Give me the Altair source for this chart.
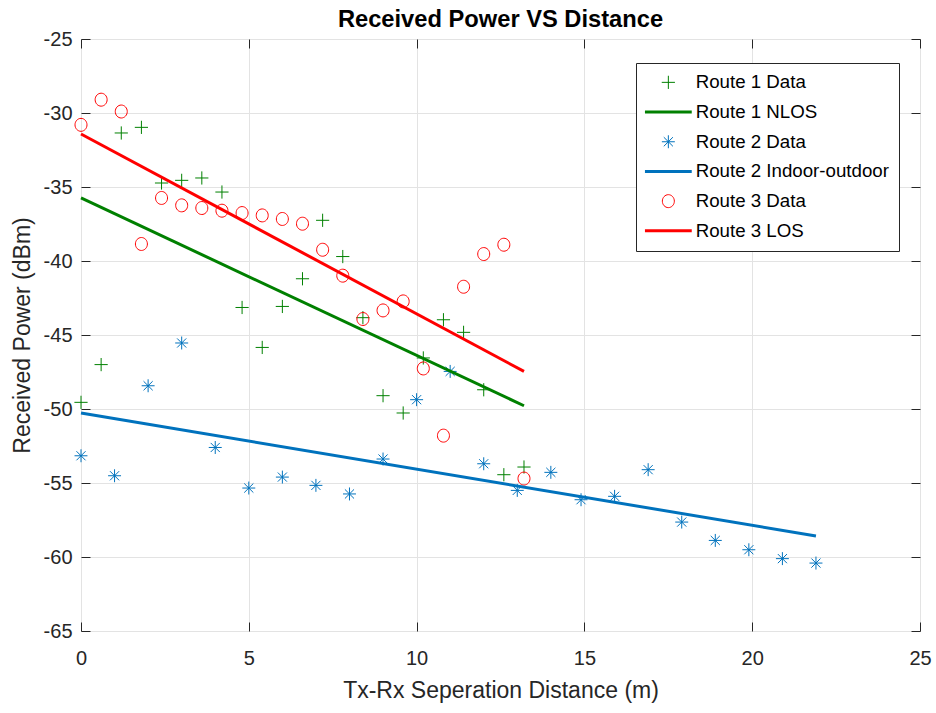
import altair as alt
import pandas as pd

# ---------------- data ----------------
route1_x = [0, 0.6, 1.2, 1.8, 2.4, 3.0, 3.6, 4.2, 4.8, 5.4, 6.0, 6.6, 7.2, 7.8,
            8.4, 9.0, 9.6, 10.2, 10.8, 11.4, 12.0, 12.6, 13.2]
route1_y = [-49.55, -47.0, -31.35, -30.97, -34.73, -34.55, -34.39, -35.34, -43.14,
            -45.84, -43.07, -41.2, -37.25, -39.7, -43.83, -49.1, -50.27, -46.55,
            -43.97, -44.82, -48.7, -54.44, -53.92]

route2_x = [0, 1, 2, 3, 4, 5, 6, 7, 8, 9, 10, 11, 12, 13, 14, 14.9, 15.9, 16.9,
            17.9, 18.9, 19.9, 20.9, 21.9]
route2_y = [-53.16, -54.51, -48.43, -45.54, -52.6, -55.34, -54.6, -55.16, -55.74,
            -53.38, -49.37, -47.46, -53.7, -55.5, -54.28, -56.13, -55.9, -54.1,
            -57.64, -58.88, -59.51, -60.11, -60.41]

route3_x = [0, 0.6, 1.2, 1.8, 2.4, 3.0, 3.6, 4.2, 4.8, 5.4, 6.0, 6.6, 7.2, 7.8,
            8.4, 9.0, 9.6, 10.2, 10.8, 11.4, 12.0, 12.6, 13.2]
route3_y = [-30.8, -29.1, -29.9, -38.85, -35.74, -36.24, -36.42, -36.6, -36.76,
            -36.92, -37.16, -37.48, -39.24, -40.99, -43.92, -43.34, -42.73, -47.26,
            -51.8, -41.74, -39.53, -38.9, -54.7]

# fitted lines (end points)
nlos_x = [0, 13.2]
nlos_y = [-35.74, -49.78]
indoor_x = [0, 21.9]
indoor_y = [-50.27, -58.58]
los_x = [0, 13.2]
los_y = [-31.42, -47.46]

series_order = ["Route 1 Data", "Route 1 NLOS", "Route 2 Data",
                "Route 2 Indoor-outdoor", "Route 3 Data", "Route 3 LOS"]

x_ticks = [0, 5, 10, 15, 20, 25]
y_ticks = [-65, -60, -55, -50, -45, -40, -35, -30, -25]

# ---------------- styling ----------------
GREEN = "#008000"
BLUE = "#0072BD"
RED = "#FF0000"
colors_all = [GREEN, GREEN, BLUE, BLUE, RED, RED]

PLUS = "M-1.1,0L1.1,0M0,-1.1L0,1.1"
STAR = "M-1.08,0L1.08,0M0,-1.08L0,1.08M-0.76,-0.76L0.76,0.76M-0.76,0.76L0.76,-0.76"
CIRC = "M1,0A1,1.08 0 1,1 -1,0A1,1.08 0 1,1 1,0Z"
LINE = "M-3.9,0L3.9,0"
shapes_all = [PLUS, LINE, STAR, LINE, CIRC, LINE]

FONT = "Liberation Sans"
TXT = "#262626"
W, H = 839, 592

frames = []
for name, xs, ys in [("Route 1 Data", route1_x, route1_y),
                     ("Route 2 Data", route2_x, route2_y),
                     ("Route 3 Data", route3_x, route3_y)]:
    frames.append(pd.DataFrame({"series": name, "x": xs, "y": ys}))
points_df = pd.concat(frames, ignore_index=True)

lframes = []
for name, xs, ys in [("Route 1 NLOS", nlos_x, nlos_y),
                     ("Route 2 Indoor-outdoor", indoor_x, indoor_y),
                     ("Route 3 LOS", los_x, los_y)]:
    lframes.append(pd.DataFrame({"series": name, "x": xs, "y": ys}))
lines_df = pd.concat(lframes, ignore_index=True)

xscale = alt.Scale(domain=[0, 25], nice=False, zero=False)
yscale = alt.Scale(domain=[-65, -25], nice=False, zero=False)
cscale = alt.Scale(domain=series_order, range=colors_all)

legend = alt.Legend(
    title=None, orient="none", legendX=555, legendY=24,
    labelFont=FONT, labelFontSize=18.7, labelColor="black", labelLimit=400,
    symbolSize=144, symbolOffset=13, labelOffset=18,
    rowPadding=9.7, padding=10,
    fillColor="white", strokeColor=TXT, cornerRadius=0,
    symbolStrokeWidth={"expr": "indexof(['Route 1 NLOS','Route 2 Indoor-outdoor','Route 3 LOS'], datum.value) >= 0 ? 3 : 1"},
)

main_x_axis = alt.Axis(values=x_ticks, ticks=False, domain=False, grid=True,
                       gridColor="#e3e3e3", labelFont=FONT, labelFontSize=20,
                       labelColor=TXT, labelPadding=17, labelFlush=False,
                       titleFont=FONT, titleFontSize=23, titleFontWeight="normal",
                       titleColor=TXT, titlePadding=11)
main_y_axis = alt.Axis(values=y_ticks, ticks=False, domain=False, grid=True,
                       gridColor="#e3e3e3", labelFont=FONT, labelFontSize=20,
                       labelColor=TXT, labelPadding=9, labelFlush=False,
                       labelExpr="toString(datum.value)",
                       titleFont=FONT, titleFontSize=23, titleFontWeight="normal",
                       titleColor=TXT, titlePadding=9)

points = alt.Chart(points_df).mark_point(filled=False, size=144, strokeWidth=1, opacity=1).encode(
    x=alt.X("x:Q", scale=xscale, axis=main_x_axis, title="Tx-Rx Seperation Distance (m)"),
    y=alt.Y("y:Q", scale=yscale, axis=main_y_axis, title="Received Power (dBm)"),
    color=alt.Color("series:N", scale=cscale, legend=legend),
    shape=alt.Shape("series:N", scale=alt.Scale(domain=series_order, range=shapes_all), legend=legend),
)


def tick_axis(orient, offset, vals):
    return alt.Axis(orient=orient, offset=offset, values=vals, labels=False, grid=False,
                    domain=False, ticks=True, tickSize=9, tickColor=TXT, tickWidth=1)


lines = alt.Chart(lines_df).mark_line(strokeWidth=3).encode(
    x=alt.X("x:Q", scale=xscale, axis=tick_axis("top", -H, x_ticks), title=None),
    y=alt.Y("y:Q", scale=yscale, axis=tick_axis("right", -W, y_ticks), title=None),
    color=alt.Color("series:N", scale=cscale, legend=None),
)

ticks_other = alt.Chart(lines_df).mark_line(opacity=0).encode(
    x=alt.X("x:Q", scale=xscale, axis=tick_axis("bottom", -H, x_ticks), title=None),
    y=alt.Y("y:Q", scale=yscale, axis=tick_axis("left", -W, y_ticks), title=None),
    detail="series:N",
)

chart = alt.layer(points, lines, ticks_other).resolve_axis(
    x="independent", y="independent"
).properties(
    width=W, height=H,
    title=alt.TitleParams("Received Power VS Distance", font=FONT, fontSize=23.7,
                          fontWeight="bold", color="black", offset=-3),
    autosize=alt.AutoSizeParams(type="none"),
    padding={"left": 81, "top": 39, "right": 16, "bottom": 82},
).configure_view(stroke=TXT, strokeWidth=1).configure(background="white")

chart.save("out.html", embed_options={"renderer": "svg", "actions": False})
